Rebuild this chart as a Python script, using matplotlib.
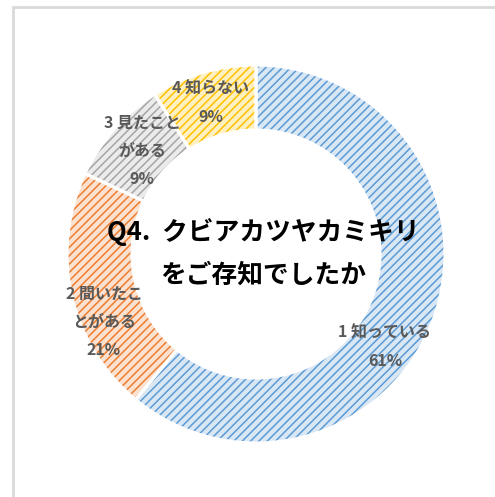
import matplotlib
matplotlib.use("Agg")
import matplotlib.pyplot as plt
from matplotlib.patches import Rectangle

plt.rcParams['font.family'] = ['Noto Sans CJK JP', 'DejaVu Sans']
plt.rcParams['hatch.linewidth'] = 1.1

categories = ["1 知っている", "2 間いたこ\nとがある", "3 見たこと\nがある", "4 知らない"]
values = [61, 21, 9, 9]
pct_labels = ["61%", "21%", "9%", "9%"]
colors = ["#5B9BD5", "#ED7D31", "#A5A5A5", "#FFC000"]
tints = ["#D9E7F5", "#FBE1CF", "#EBEBEB", "#FFF0C2"]
title = "Q4.  クビアカツヤカミキリ\nをご存知でしたか"

W, H = 495, 497
fig = plt.figure(figsize=(W / 100, H / 100), dpi=100)
ax = fig.add_axes([0, 0, 1, 1])

cx, cy = 256, H - 254
R, ring = 189, 65

wedges, _ = ax.pie(values, center=(cx, cy), radius=R, startangle=90,
                   counterclock=False, frame=True,
                   wedgeprops=dict(width=ring, linewidth=0))
for w, c, t in zip(wedges, colors, tints):
    w.set_facecolor(t)
    w.set_edgecolor(c)
    w.set_hatch('////')
    w.set_linewidth(0)
ax.pie(values, center=(cx, cy), radius=R, startangle=90, counterclock=False,
       frame=True, wedgeprops=dict(width=ring, fill=False, edgecolor='white',
                                   linewidth=2.2))
ax.set_xlim(0, W)
ax.set_ylim(0, H)
ax.set_aspect('auto')
ax.axis('off')

# data labels (pixel positions from top-left)
label_pos = [(385, 347), (104, 322), (142, 151), (211, 103)]
for (x, y), cat, p in zip(label_pos, categories, pct_labels):
    ax.text(x, H - y, cat + "\n" + p, ha='center', va='center',
            fontsize=11.5, fontweight='bold', color='#595959',
            linespacing=1.95)

ax.text(263, H - 253, title, ha='center', va='center', fontsize=18.5,
        fontweight='bold', color='black', linespacing=1.75)

# chart border
ax.add_patch(Rectangle((13, -5), W, H - 7 + 5, fill=False,
                       edgecolor='#D9D9D9', linewidth=2, clip_on=False))

fig.savefig("out.png", dpi=100)
